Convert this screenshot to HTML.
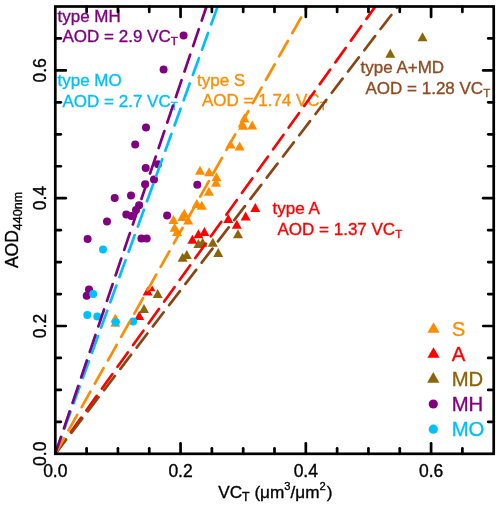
<!DOCTYPE html>
<html><head><meta charset="utf-8"><style>
html,body{margin:0;padding:0;background:#fff;}
svg{display:block;will-change:transform;}
text{font-family:"Liberation Sans",sans-serif;stroke-width:0.35px;paint-order:stroke;}
</style></head><body>
<svg width="500" height="507" viewBox="0 0 500 507">
<rect width="500" height="507" fill="#fff"/>
<g><path d="M115.30 313.40L110.30 322.40L120.30 322.40Z" fill="#FF8C00"/><path d="M115.30 317.80L110.30 326.80L120.30 326.80Z" fill="#FF8C00"/><path d="M244.40 113.50L239.40 122.50L249.40 122.50Z" fill="#FF8C00"/><path d="M243.10 120.70L238.10 129.70L248.10 129.70Z" fill="#FF8C00"/><path d="M252.20 120.50L247.20 129.50L257.20 129.50Z" fill="#FF8C00"/><path d="M230.50 139.50L225.50 148.50L235.50 148.50Z" fill="#FF8C00"/><path d="M239.60 141.50L234.60 150.50L244.60 150.50Z" fill="#FF8C00"/><path d="M200.00 165.70L195.00 174.70L205.00 174.70Z" fill="#FF8C00"/><path d="M209.10 167.30L204.10 176.30L214.10 176.30Z" fill="#FF8C00"/><path d="M216.50 172.30L211.50 181.30L221.50 181.30Z" fill="#FF8C00"/><path d="M216.00 177.70L211.00 186.70L221.00 186.70Z" fill="#FF8C00"/><path d="M208.90 186.70L203.90 195.70L213.90 195.70Z" fill="#FF8C00"/><path d="M196.80 199.00L191.80 208.00L201.80 208.00Z" fill="#FF8C00"/><path d="M201.80 200.70L196.80 209.70L206.80 209.70Z" fill="#FF8C00"/><path d="M184.30 208.70L179.30 217.70L189.30 217.70Z" fill="#FF8C00"/><path d="M188.20 215.50L183.20 224.50L193.20 224.50Z" fill="#FF8C00"/><path d="M173.50 215.10L168.50 224.10L178.50 224.10Z" fill="#FF8C00"/><path d="M174.60 222.70L169.60 231.70L179.60 231.70Z" fill="#FF8C00"/><path d="M177.00 227.00L172.00 236.00L182.00 236.00Z" fill="#FF8C00"/><path d="M182.20 212.00L177.20 221.00L187.20 221.00Z" fill="#FF8C00"/><path d="M144.00 304.10L139.00 313.10L149.00 313.10Z" fill="#8B6508"/><path d="M157.70 288.90L152.70 297.90L162.70 297.90Z" fill="#8B6508"/><path d="M182.60 252.80L177.60 261.80L187.60 261.80Z" fill="#8B6508"/><path d="M186.80 250.00L181.80 259.00L191.80 259.00Z" fill="#8B6508"/><path d="M198.40 238.90L193.40 247.90L203.40 247.90Z" fill="#8B6508"/><path d="M202.60 237.70L197.60 246.70L207.60 246.70Z" fill="#8B6508"/><path d="M212.80 237.70L207.80 246.70L217.80 246.70Z" fill="#8B6508"/><path d="M218.20 247.90L213.20 256.90L223.20 256.90Z" fill="#8B6508"/><path d="M238.00 229.30L233.00 238.30L243.00 238.30Z" fill="#8B6508"/><path d="M390.30 48.80L385.30 57.80L395.30 57.80Z" fill="#8B6508"/><path d="M422.50 32.30L417.50 41.30L427.50 41.30Z" fill="#8B6508"/><path d="M152.2 285.6L148.9 291.3L155.5 291.3Z" fill="#FF0000"/><path d="M147.60 286.60L142.60 295.60L152.60 295.60Z" fill="#FF0000"/><path d="M139.20 310.90L134.20 319.90L144.20 319.90Z" fill="#FF0000"/><path d="M204.40 226.90L199.40 235.90L209.40 235.90Z" fill="#FF0000"/><path d="M198.40 229.30L193.40 238.30L203.40 238.30Z" fill="#FF0000"/><path d="M192.40 234.70L187.40 243.70L197.40 243.70Z" fill="#FF0000"/><path d="M228.30 213.90L223.30 222.90L233.30 222.90Z" fill="#FF0000"/><path d="M236.80 219.70L231.80 228.70L241.80 228.70Z" fill="#FF0000"/><path d="M245.60 211.50L240.60 220.50L250.60 220.50Z" fill="#FF0000"/><path d="M255.30 202.90L250.30 211.90L260.30 211.90Z" fill="#FF0000"/><circle cx="183.60" cy="35.40" r="4.0" fill="#800080"/><circle cx="163.60" cy="69.40" r="4.0" fill="#800080"/><circle cx="146.00" cy="127.50" r="4.0" fill="#800080"/><circle cx="135.20" cy="144.40" r="4.0" fill="#800080"/><circle cx="145.70" cy="168.00" r="4.0" fill="#800080"/><circle cx="158.00" cy="164.20" r="4.0" fill="#800080"/><circle cx="154.00" cy="179.40" r="4.0" fill="#800080"/><circle cx="145.10" cy="184.30" r="4.0" fill="#800080"/><circle cx="131.00" cy="195.40" r="4.0" fill="#800080"/><circle cx="114.70" cy="198.10" r="4.0" fill="#800080"/><circle cx="139.10" cy="205.30" r="4.0" fill="#800080"/><circle cx="136.00" cy="210.00" r="4.0" fill="#800080"/><circle cx="126.30" cy="214.40" r="4.0" fill="#800080"/><circle cx="131.40" cy="215.90" r="4.0" fill="#800080"/><circle cx="107.00" cy="221.40" r="4.0" fill="#800080"/><circle cx="87.60" cy="239.00" r="4.0" fill="#800080"/><circle cx="141.40" cy="238.40" r="4.0" fill="#800080"/><circle cx="146.70" cy="238.60" r="4.0" fill="#800080"/><circle cx="89.00" cy="289.50" r="4.0" fill="#800080"/><circle cx="86.70" cy="295.70" r="4.0" fill="#800080"/><circle cx="197.30" cy="184.80" r="4.0" fill="#800080"/><circle cx="167.10" cy="215.40" r="4.0" fill="#800080"/><circle cx="103.00" cy="249.60" r="4.0" fill="#00BFFF"/><circle cx="93.20" cy="294.10" r="4.0" fill="#00BFFF"/><circle cx="87.30" cy="315.00" r="4.0" fill="#00BFFF"/><circle cx="97.30" cy="316.50" r="4.0" fill="#00BFFF"/><circle cx="115.80" cy="322.20" r="4.0" fill="#00BFFF"/><circle cx="133.10" cy="321.50" r="4.0" fill="#00BFFF"/></g>
<text x="57.5" y="21.5" font-size="17" fill="#800080" stroke="#800080">type MH</text><text x="62.5" y="42.0" font-size="17" fill="#800080" stroke="#800080">AOD = 2.9 VC<tspan font-size="11.5" dy="3.3">T</tspan></text><text x="57.5" y="86" font-size="17" fill="#00BFFF" stroke="#00BFFF">type MO</text><text x="62.5" y="106.5" font-size="17" fill="#00BFFF" stroke="#00BFFF">AOD = 2.7 VC<tspan font-size="11.5" dy="3.3">T</tspan></text><text x="197" y="85.7" font-size="17" fill="#FF8C00" stroke="#FF8C00">type S</text><text x="202" y="106.2" font-size="17" fill="#FF8C00" stroke="#FF8C00">AOD = 1.74 VC<tspan font-size="11.5" dy="3.3">T</tspan></text><text x="360.5" y="73.2" font-size="17" fill="#8F4A22" stroke="#8F4A22">type A+MD</text><text x="365.5" y="93.7" font-size="17" fill="#8F4A22" stroke="#8F4A22">AOD = 1.28 VC<tspan font-size="11.5" dy="3.3">T</tspan></text><text x="272.5" y="214" font-size="17" fill="#FF0000" stroke="#FF0000">type A</text><text x="277.5" y="234.5" font-size="17" fill="#FF0000" stroke="#FF0000">AOD = 1.37 VC<tspan font-size="11.5" dy="3.3">T</tspan></text>
<g clip-path="url(#clip)"><line x1="55.3" y1="453.8" x2="375.31" y2="6.50" stroke="#FF0000" stroke-width="2.7" stroke-linecap="round" stroke-dasharray="17.702 9.038"/><line x1="55.3" y1="453.8" x2="217.67" y2="6.50" stroke="#00BFFF" stroke-width="2.7" stroke-linecap="round" stroke-dasharray="17.788 9.082"/><line x1="55.3" y1="453.8" x2="397.81" y2="6.50" stroke="#8B4513" stroke-width="2.7" stroke-linecap="round" stroke-dasharray="17.709 9.042"/><line x1="55.3" y1="453.8" x2="307.26" y2="6.50" stroke="#FF8C00" stroke-width="2.7" stroke-linecap="round" stroke-dasharray="17.761 9.069"/><line x1="55.3" y1="453.8" x2="206.48" y2="6.50" stroke="#800080" stroke-width="2.7" stroke-linecap="round" stroke-dasharray="17.808 9.092"/></g>
<defs><clipPath id="clip"><rect x="55.3" y="6" width="438.41" height="447.80"/></clipPath></defs>
<rect x="55.3" y="6.50" width="438.41" height="447.30" fill="none" stroke="#000" stroke-width="2.7"/><line x1="86.61" y1="453.8" x2="86.61" y2="448.3" stroke="#000" stroke-width="2.7" stroke-linecap="round"/><line x1="86.61" y1="6.50" x2="86.61" y2="12.000000000000057" stroke="#000" stroke-width="2.7" stroke-linecap="round"/><line x1="55.3" y1="421.85" x2="60.8" y2="421.85" stroke="#000" stroke-width="2.7" stroke-linecap="round"/><line x1="493.71" y1="421.85" x2="488.21" y2="421.85" stroke="#000" stroke-width="2.7" stroke-linecap="round"/><line x1="117.93" y1="453.8" x2="117.93" y2="448.3" stroke="#000" stroke-width="2.7" stroke-linecap="round"/><line x1="117.93" y1="6.50" x2="117.93" y2="12.000000000000057" stroke="#000" stroke-width="2.7" stroke-linecap="round"/><line x1="55.3" y1="389.90" x2="60.8" y2="389.90" stroke="#000" stroke-width="2.7" stroke-linecap="round"/><line x1="493.71" y1="389.90" x2="488.21" y2="389.90" stroke="#000" stroke-width="2.7" stroke-linecap="round"/><line x1="149.25" y1="453.8" x2="149.25" y2="448.3" stroke="#000" stroke-width="2.7" stroke-linecap="round"/><line x1="149.25" y1="6.50" x2="149.25" y2="12.000000000000057" stroke="#000" stroke-width="2.7" stroke-linecap="round"/><line x1="55.3" y1="357.95" x2="60.8" y2="357.95" stroke="#000" stroke-width="2.7" stroke-linecap="round"/><line x1="493.71" y1="357.95" x2="488.21" y2="357.95" stroke="#000" stroke-width="2.7" stroke-linecap="round"/><line x1="180.56" y1="453.8" x2="180.56" y2="443.3" stroke="#000" stroke-width="2.7" stroke-linecap="round"/><line x1="180.56" y1="6.50" x2="180.56" y2="17.000000000000057" stroke="#000" stroke-width="2.7" stroke-linecap="round"/><line x1="55.3" y1="326.00" x2="65.8" y2="326.00" stroke="#000" stroke-width="2.7" stroke-linecap="round"/><line x1="493.71" y1="326.00" x2="483.21" y2="326.00" stroke="#000" stroke-width="2.7" stroke-linecap="round"/><line x1="211.88" y1="453.8" x2="211.88" y2="448.3" stroke="#000" stroke-width="2.7" stroke-linecap="round"/><line x1="211.88" y1="6.50" x2="211.88" y2="12.000000000000057" stroke="#000" stroke-width="2.7" stroke-linecap="round"/><line x1="55.3" y1="294.05" x2="60.8" y2="294.05" stroke="#000" stroke-width="2.7" stroke-linecap="round"/><line x1="493.71" y1="294.05" x2="488.21" y2="294.05" stroke="#000" stroke-width="2.7" stroke-linecap="round"/><line x1="243.19" y1="453.8" x2="243.19" y2="448.3" stroke="#000" stroke-width="2.7" stroke-linecap="round"/><line x1="243.19" y1="6.50" x2="243.19" y2="12.000000000000057" stroke="#000" stroke-width="2.7" stroke-linecap="round"/><line x1="55.3" y1="262.10" x2="60.8" y2="262.10" stroke="#000" stroke-width="2.7" stroke-linecap="round"/><line x1="493.71" y1="262.10" x2="488.21" y2="262.10" stroke="#000" stroke-width="2.7" stroke-linecap="round"/><line x1="274.50" y1="453.8" x2="274.50" y2="448.3" stroke="#000" stroke-width="2.7" stroke-linecap="round"/><line x1="274.50" y1="6.50" x2="274.50" y2="12.000000000000057" stroke="#000" stroke-width="2.7" stroke-linecap="round"/><line x1="55.3" y1="230.15" x2="60.8" y2="230.15" stroke="#000" stroke-width="2.7" stroke-linecap="round"/><line x1="493.71" y1="230.15" x2="488.21" y2="230.15" stroke="#000" stroke-width="2.7" stroke-linecap="round"/><line x1="305.82" y1="453.8" x2="305.82" y2="443.3" stroke="#000" stroke-width="2.7" stroke-linecap="round"/><line x1="305.82" y1="6.50" x2="305.82" y2="17.000000000000057" stroke="#000" stroke-width="2.7" stroke-linecap="round"/><line x1="55.3" y1="198.20" x2="65.8" y2="198.20" stroke="#000" stroke-width="2.7" stroke-linecap="round"/><line x1="493.71" y1="198.20" x2="483.21" y2="198.20" stroke="#000" stroke-width="2.7" stroke-linecap="round"/><line x1="337.13" y1="453.8" x2="337.13" y2="448.3" stroke="#000" stroke-width="2.7" stroke-linecap="round"/><line x1="337.13" y1="6.50" x2="337.13" y2="12.000000000000057" stroke="#000" stroke-width="2.7" stroke-linecap="round"/><line x1="55.3" y1="166.25" x2="60.8" y2="166.25" stroke="#000" stroke-width="2.7" stroke-linecap="round"/><line x1="493.71" y1="166.25" x2="488.21" y2="166.25" stroke="#000" stroke-width="2.7" stroke-linecap="round"/><line x1="368.45" y1="453.8" x2="368.45" y2="448.3" stroke="#000" stroke-width="2.7" stroke-linecap="round"/><line x1="368.45" y1="6.50" x2="368.45" y2="12.000000000000057" stroke="#000" stroke-width="2.7" stroke-linecap="round"/><line x1="55.3" y1="134.30" x2="60.8" y2="134.30" stroke="#000" stroke-width="2.7" stroke-linecap="round"/><line x1="493.71" y1="134.30" x2="488.21" y2="134.30" stroke="#000" stroke-width="2.7" stroke-linecap="round"/><line x1="399.76" y1="453.8" x2="399.76" y2="448.3" stroke="#000" stroke-width="2.7" stroke-linecap="round"/><line x1="399.76" y1="6.50" x2="399.76" y2="12.000000000000057" stroke="#000" stroke-width="2.7" stroke-linecap="round"/><line x1="55.3" y1="102.35" x2="60.8" y2="102.35" stroke="#000" stroke-width="2.7" stroke-linecap="round"/><line x1="493.71" y1="102.35" x2="488.21" y2="102.35" stroke="#000" stroke-width="2.7" stroke-linecap="round"/><line x1="431.08" y1="453.8" x2="431.08" y2="443.3" stroke="#000" stroke-width="2.7" stroke-linecap="round"/><line x1="431.08" y1="6.50" x2="431.08" y2="17.000000000000057" stroke="#000" stroke-width="2.7" stroke-linecap="round"/><line x1="55.3" y1="70.40" x2="65.8" y2="70.40" stroke="#000" stroke-width="2.7" stroke-linecap="round"/><line x1="493.71" y1="70.40" x2="483.21" y2="70.40" stroke="#000" stroke-width="2.7" stroke-linecap="round"/><line x1="462.39" y1="453.8" x2="462.39" y2="448.3" stroke="#000" stroke-width="2.7" stroke-linecap="round"/><line x1="462.39" y1="6.50" x2="462.39" y2="12.000000000000057" stroke="#000" stroke-width="2.7" stroke-linecap="round"/><line x1="55.3" y1="38.45" x2="60.8" y2="38.45" stroke="#000" stroke-width="2.7" stroke-linecap="round"/><line x1="493.71" y1="38.45" x2="488.21" y2="38.45" stroke="#000" stroke-width="2.7" stroke-linecap="round"/>
<text x="55.30" y="477.3" font-size="17.5" text-anchor="middle" stroke="#000">0.0</text><text transform="translate(45.8 453.80) rotate(-90)" x="0" y="0" font-size="17.5" text-anchor="middle" stroke="#000">0.0</text><text x="180.56" y="477.3" font-size="17.5" text-anchor="middle" stroke="#000">0.2</text><text transform="translate(45.8 326.00) rotate(-90)" x="0" y="0" font-size="17.5" text-anchor="middle" stroke="#000">0.2</text><text x="305.82" y="477.3" font-size="17.5" text-anchor="middle" stroke="#000">0.4</text><text transform="translate(45.8 198.20) rotate(-90)" x="0" y="0" font-size="17.5" text-anchor="middle" stroke="#000">0.4</text><text x="431.08" y="477.3" font-size="17.5" text-anchor="middle" stroke="#000">0.6</text><text transform="translate(45.8 70.40) rotate(-90)" x="0" y="0" font-size="17.5" text-anchor="middle" stroke="#000">0.6</text>
<text x="275.3" y="497.8" font-size="17.2" text-anchor="middle" stroke="#000">VC<tspan font-size="12.3" dy="3">T</tspan><tspan dy="-3"> (μm</tspan><tspan font-size="11.2" dy="-7.8">3</tspan><tspan dy="7.8">/μm</tspan><tspan font-size="11.2" dy="-8.3">2</tspan><tspan dy="8.3" dx="0.8">)</tspan></text>
<text transform="translate(17.8 230) rotate(-90)" font-size="17.5" text-anchor="middle" stroke="#000">AOD<tspan font-size="12.5" dy="4.4">440nm</tspan></text>
<path d="M433.50 322.15L427.40 332.85L439.60 332.85Z" fill="#FF8C00"/><text x="451.7" y="335.8" font-size="20.3" fill="#FF8C00" stroke="#FF8C00">S</text><path d="M433.50 347.15L427.40 357.85L439.60 357.85Z" fill="#FF0000"/><text x="451.7" y="360.8" font-size="20.3" fill="#FF0000" stroke="#FF0000">A</text><path d="M433.30 372.05L427.20 382.75L439.40 382.75Z" fill="#8B6508"/><text x="451.7" y="385.8" font-size="20.3" fill="#8B6508" stroke="#8B6508">MD</text><circle cx="433.30" cy="404.00" r="4.6" fill="#800080"/><text x="451.7" y="410.9" font-size="20.3" fill="#800080" stroke="#800080">MH</text><circle cx="433.30" cy="429.20" r="4.6" fill="#00BFFF"/><text x="451.7" y="435.8" font-size="20.3" fill="#00BFFF" stroke="#00BFFF">MO</text>
</svg>
</body></html>
